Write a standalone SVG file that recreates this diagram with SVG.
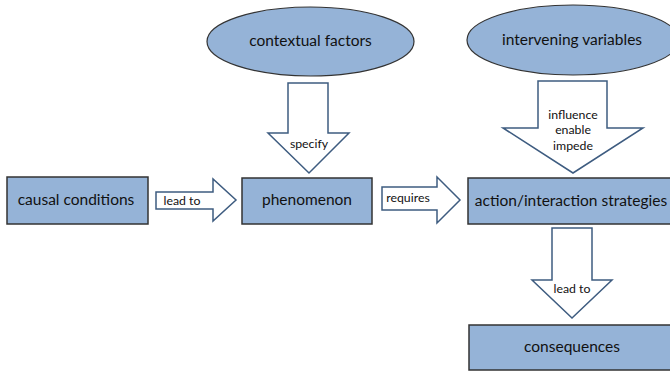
<svg xmlns="http://www.w3.org/2000/svg" width="670" height="372" viewBox="0 0 670 372">
  <style>
    .box { fill: #95b3d7; stroke: #333; stroke-width: 1.5; }
    .oval { fill: #95b3d7; stroke: #333; stroke-width: 1.2; }
    .arrow { fill: #fff; stroke: #3e5c80; stroke-width: 1.5; stroke-linejoin: miter; }
    .lbl { font-family: Lato, "Open Sans", "Liberation Sans", sans-serif; font-size: 15.5px; fill: #111; text-anchor: middle; }
    .small { font-family: Lato, "Open Sans", "Liberation Sans", sans-serif; font-size: 12.3px; fill: #111; text-anchor: middle; }
  </style>
  <rect width="670" height="372" fill="#fff"/>

  <!-- block arrows between the concepts -->
  <g id="connectors">
    <g id="arrow-lead-to-h">
      <path class="arrow" d="M156,192 H213 V179 L236,200 L213,221 V209 H156 Z"/>
      <text class="small" x="182" y="204.5">lead to</text>
    </g>
    <g id="arrow-specify">
      <path class="arrow" d="M288,83 H328 V133 H349 L309,173 L268,133 H288 Z"/>
      <text class="small" x="309" y="148">specify</text>
    </g>
    <g id="arrow-requires">
      <path class="arrow" d="M382,187 H437 V177 L460,200 L437,223 V210 H382 Z"/>
      <text class="small" x="408" y="202">requires</text>
    </g>
    <g id="arrow-influence">
      <path class="arrow" d="M538,81 H607 V128 H643 L573,173 L503,128 H538 Z"/>
      <text class="small" x="573" y="119">influence</text>
      <text class="small" x="573" y="134">enable</text>
      <text class="small" x="573" y="150">impede</text>
    </g>
    <g id="arrow-lead-to-v">
      <path class="arrow" d="M552,228 H592 V280 H612 L572,318 L532,280 H552 Z"/>
      <text class="small" x="572" y="293">lead to</text>
    </g>
  </g>

  <g id="contextual-factors">
    <ellipse class="oval" cx="310.5" cy="41.5" rx="103.5" ry="34.5"/>
    <text class="lbl" x="310.5" y="46">contextual factors</text>
  </g>

  <g id="intervening-variables">
    <ellipse class="oval" cx="573" cy="40" rx="106" ry="35"/>
    <text class="lbl" x="572" y="45">intervening variables</text>
  </g>

  <g id="causal-conditions">
    <rect class="box" x="7" y="177" width="141" height="47"/>
    <text class="lbl" x="76" y="205">causal conditions</text>
  </g>

  <g id="phenomenon">
    <rect class="box" x="242" y="178" width="130" height="46"/>
    <text class="lbl" x="307" y="205">phenomenon</text>
  </g>

  <g id="action-interaction-strategies">
    <rect class="box" x="468" y="178" width="210" height="46"/>
    <text class="lbl" x="571" y="206">action/interaction strategies</text>
  </g>

  <g id="consequences">
    <rect class="box" x="469" y="325" width="209" height="45"/>
    <text class="lbl" x="572" y="352">consequences</text>
  </g>
</svg>
